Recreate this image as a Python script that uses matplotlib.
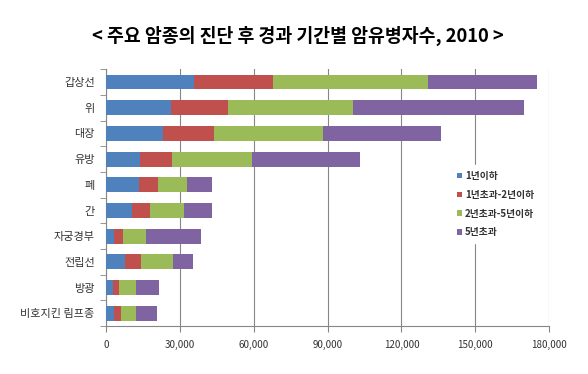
import matplotlib
matplotlib.use("Agg")
import matplotlib.pyplot as plt
import numpy as np

plt.rcParams['font.family'] = ['Noto Sans CJK KR', 'DejaVu Sans']

# cancer types, top to bottom
cancers = ['갑상선', '위', '대장', '유방', '폐', '간', '자궁경부', '전립선', '방광', '비호지킨 림프종']

# prevalence by period after diagnosis (persons)
under_1y = [35800, 26400, 23300, 13900, 13400, 10800, 3400, 7600, 3000, 3400]
y1_to_2 = [31900, 23000, 20700, 13100, 7900, 7300, 3600, 6700, 2400, 2700]
y2_to_5 = [63000, 51000, 44300, 32400, 11600, 13700, 9400, 13100, 6800, 6100]
over_5y = [44300, 69500, 47700, 43800, 10400, 11400, 22100, 7800, 9500, 8600]

series_names = ['1년이하', '1년초과-2년이하', '2년초과-5년이하', '5년초과']
colors = ['#4F81BD', '#C0504D', '#9BBB59', '#8064A2']

xticks = [0, 30000, 60000, 90000, 120000, 150000, 180000]

fig = plt.figure(figsize=(5.88, 3.74), dpi=100)
ax = fig.add_axes([0.180, 0.128, 0.754, 0.687])

y = np.arange(len(cancers))
left = np.zeros(len(cancers))
for vals, name, c in zip([under_1y, y1_to_2, y2_to_5, over_5y], series_names, colors):
    ax.barh(y, vals, left=left, height=0.58, color=c, label=name, zorder=3)
    left += np.array(vals)

ax.set_ylim(len(cancers) - 0.5, -0.5)
ax.set_xlim(0, 180000)
ax.set_yticks(y)
ax.set_yticklabels(cancers, fontsize=8, color='#333333')
ax.set_yticks(np.arange(-0.5, len(cancers)), minor=True)
ax.tick_params(axis='y', which='major', length=0, pad=8)
ax.tick_params(axis='y', which='minor', length=4, color='#868686', direction='out')

ax.set_xticks(xticks)
ax.set_xticklabels([f'{v:,}' for v in xticks], fontsize=7, color='#333333')
ax.tick_params(axis='x', length=4, color='#868686', pad=6)

ax.grid(axis='x', color='#868686', linewidth=0.8, zorder=0)
for s in ['top', 'right']:
    ax.spines[s].set_visible(False)
for s in ['left', 'bottom']:
    ax.spines[s].set_color('#868686')
    ax.spines[s].set_linewidth(0.8)

leg = ax.legend(loc='upper left', bbox_to_anchor=(0.768, 0.645), fontsize=7,
                frameon=True, fancybox=False, edgecolor='white', framealpha=1,
                handlelength=0.5, handleheight=0.5, handletextpad=0.3,
                labelspacing=0.9, borderpad=0.6)
leg.set_zorder(5)
for t in leg.get_texts():
    t.set_color('#333333')
    t.set_fontweight('bold')

fig.text(0.507, 0.905, '< 주요 암종의 진단 후 경과 기간별 암유병자수, 2010 >',
         ha='center', va='center', fontsize=13.2, fontweight='bold')

fig.savefig('out.png', dpi=100)
